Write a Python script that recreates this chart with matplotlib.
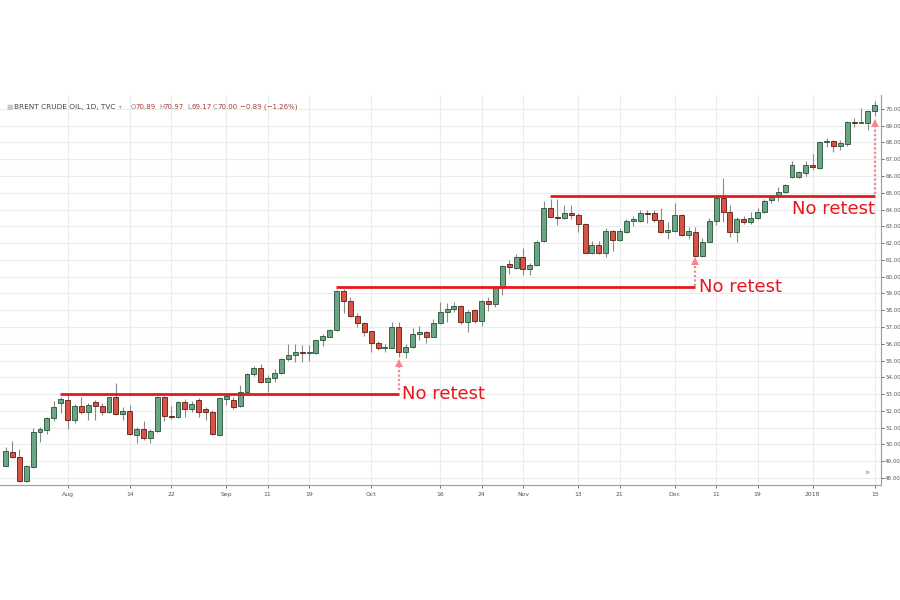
import numpy as np
import pandas as pd
import matplotlib
matplotlib.use("Agg")
import matplotlib.pyplot as plt

# ------------------------------
# Data (Brent crude, daily, Jul 19 2017 - Jan 15 2018)
# ------------------------------
dates = pd.bdate_range("2017-07-19", "2018-01-15")
dates = dates.drop(pd.to_datetime(["2017-12-25", "2018-01-01"]))

opens = [
    48.71, 49.55, 49.25, 47.84, 48.68, 50.72, 50.86, 51.60, 52.49,
    52.65, 51.45, 52.29, 51.93, 52.51, 52.27, 51.95, 52.83, 51.84, 51.99, 50.54, 50.94,
    50.36, 50.80, 52.85, 51.72, 51.62, 52.55, 52.11, 52.65, 52.13, 51.95, 50.56,
    52.73, 52.65, 52.26, 53.10, 54.18, 54.54, 53.74, 53.94, 54.24, 55.07, 55.31,
    55.53, 55.43, 55.43, 56.22, 56.42, 56.82, 59.15, 58.57, 57.66, 57.26,
    56.73, 56.07, 55.72, 55.77, 56.98, 55.53, 55.79, 56.58, 56.70, 56.42, 57.22, 57.91,
    58.06, 58.25, 57.30, 58.02, 57.34, 58.57, 58.37, 59.40, 60.76, 60.50,
    61.19, 60.48, 60.70, 62.13, 64.08, 63.58, 63.49, 63.82, 63.68, 63.14, 61.43,
    61.89, 61.40, 62.74, 62.19, 62.68, 63.32, 63.34, 63.80, 63.78, 63.40, 62.69,
    62.73, 63.68, 62.49, 62.69, 61.25, 62.09, 63.32, 64.71, 63.88, 62.69,
    63.44, 63.26, 63.49, 63.84, 64.57, 64.83, 65.07, 65.97, 65.97, 66.17,
    66.66, 66.50, 68.01, 68.07, 67.80, 67.90, 69.24, 69.16, 69.15, 69.85,
]
highs = [
    49.85, 50.20, 49.70, 48.80, 50.99, 51.02, 51.62, 52.60, 52.85,
    52.93, 52.40, 52.85, 52.49, 52.65, 52.49, 52.85, 53.64, 52.25, 52.35, 51.06, 51.41,
    50.90, 52.89, 52.89, 52.29, 52.60, 52.69, 52.60, 52.75, 52.22, 52.05, 52.80,
    52.95, 52.80, 53.54, 54.24, 54.67, 54.78, 54.14, 54.48, 55.13, 55.99, 55.99,
    55.93, 55.93, 56.28, 56.58, 56.86, 59.21, 59.25, 58.81, 57.85, 57.32,
    56.76, 56.19, 56.00, 57.32, 57.32, 55.99, 56.92, 57.06, 56.78, 57.50, 58.51, 58.45,
    58.51, 58.31, 58.00, 58.07, 58.61, 58.77, 59.45, 60.70, 60.99, 61.35,
    61.69, 60.83, 62.19, 64.53, 64.62, 64.62, 64.28, 64.28, 63.78, 63.20, 62.15,
    62.15, 62.89, 62.78, 62.89, 63.42, 63.62, 64.00, 64.00, 63.98, 64.08, 63.28,
    64.38, 63.72, 62.98, 62.98, 62.29, 63.50, 64.87, 65.87, 64.28, 63.58,
    63.64, 63.88, 64.08, 64.60, 64.87, 65.32, 65.53, 66.90, 66.30, 66.89,
    67.30, 68.07, 68.29, 68.15, 68.15, 69.30, 69.45, 70.04, 69.94, 70.45,
]
lows = [
    48.70, 49.18, 47.78, 47.78, 48.60, 50.17, 50.62, 51.42, 51.85,
    50.94, 51.30, 51.80, 51.45, 51.45, 51.77, 51.87, 51.74, 51.45, 50.56, 50.07, 50.26,
    50.07, 50.74, 51.42, 51.50, 51.56, 51.66, 51.95, 51.62, 51.45, 50.56, 50.50,
    52.35, 52.10, 52.22, 53.05, 54.10, 53.68, 53.14, 53.74, 54.20, 55.00, 54.93,
    54.93, 54.95, 55.40, 55.87, 56.40, 56.78, 57.85, 57.62, 56.98, 56.47,
    55.53, 55.63, 55.50, 55.73, 55.20, 55.14, 55.73, 56.22, 56.03, 56.38, 57.18, 57.32,
    57.90, 57.18, 56.68, 57.26, 57.06, 57.97, 58.18, 58.91, 60.16, 60.44,
    60.10, 60.10, 60.64, 62.09, 63.54, 63.08, 63.43, 63.43, 62.69, 61.40, 61.35,
    61.35, 61.16, 61.55, 62.15, 62.62, 63.03, 63.24, 63.20, 63.28, 62.59, 62.25,
    62.65, 62.45, 62.25, 61.20, 61.20, 62.05, 63.08, 63.25, 62.39, 62.09,
    63.14, 63.14, 63.44, 63.78, 64.38, 64.50, 65.00, 65.91, 65.91, 66.00,
    66.36, 66.44, 67.70, 67.45, 67.55, 67.80, 68.91, 69.14, 68.75, 69.60,
]
closes = [
    49.61, 49.27, 47.84, 48.70, 50.72, 50.92, 51.60, 52.25, 52.69,
    51.45, 52.29, 51.95, 52.37, 52.26, 51.95, 52.83, 51.81, 52.01, 50.62, 50.94, 50.36,
    50.80, 52.85, 51.72, 51.62, 52.55, 52.11, 52.41, 51.95, 51.95, 50.62, 52.75,
    52.89, 52.20, 53.10, 54.18, 54.54, 53.74, 53.94, 54.24, 55.07, 55.31, 55.53,
    55.43, 55.48, 56.22, 56.48, 56.82, 59.15, 58.57, 57.66, 57.22, 56.69,
    56.07, 55.73, 55.80, 56.98, 55.53, 55.79, 56.58, 56.70, 56.42, 57.22, 57.91, 58.08,
    58.25, 57.30, 57.90, 57.34, 58.57, 58.37, 59.37, 60.64, 60.57, 61.19,
    60.44, 60.70, 62.09, 64.08, 63.58, 63.52, 63.82, 63.68, 63.14, 61.43, 61.89,
    61.40, 62.74, 62.19, 62.74, 63.34, 63.43, 63.78, 63.76, 63.39, 62.67, 62.79,
    63.68, 62.49, 62.73, 61.25, 62.09, 63.32, 64.71, 63.88, 62.69, 63.44,
    63.28, 63.49, 63.84, 64.51, 64.77, 65.07, 65.47, 66.66, 66.23, 66.66,
    66.54, 68.01, 68.07, 67.80, 67.99, 69.24, 69.17, 69.20, 69.87, 70.25,
]

tick_dates = ["2017-08-01", "2017-08-14", "2017-08-22", "2017-09-01", "2017-09-11",
              "2017-09-19", "2017-10-02", "2017-10-16", "2017-10-24", "2017-11-01",
              "2017-11-13", "2017-11-21", "2017-12-01", "2017-12-11", "2017-12-19",
              "2018-01-02", "2018-01-15"]
tick_labels = ["Aug", "14", "22", "Sep", "11", "19", "Oct", "16", "24", "Nov",
               "13", "21", "Dec", "11", "19", "2018", "15"]

# resistance levels: price, start date, end date
levels = [53.0, 59.4, 64.83]
level_start = ["2017-07-31", "2017-09-25", "2017-11-07"]
level_end = ["2017-10-06", "2017-12-06", "2018-01-15"]
# "No retest" arrows: date, from price, to price
arrow_dates = ["2017-10-06", "2017-12-06", "2018-01-15"]
arrow_from = [53.24, 59.45, 64.93]
arrow_to = [54.85, 60.95, 69.15]

# ------------------------------
# Plot
# ------------------------------
o = np.array(opens)
h = np.array(highs)
l = np.array(lows)
c = np.array(closes)
x = np.arange(len(dates))

def pos(d):
    return dates.get_loc(pd.Timestamp(d))

fig = plt.figure(figsize=(9, 6), dpi=100)
ax = fig.add_axes([0.0, 0.1917, 0.9789, 0.65])

up = c >= o
green, green_edge = "#6ba583", "#225437"
red, red_edge = "#d75442", "#5b1a13"

ax.vlines(x, l, h, color="#8a8a8a", lw=0.8, zorder=2)
body_h = np.maximum(np.abs(c - o), 0.04)
body_b = np.minimum(o, c)
ax.bar(x[up], body_h[up], bottom=body_b[up], width=0.72,
       color=green, edgecolor=green_edge, lw=0.6, zorder=3)
ax.bar(x[~up], body_h[~up], bottom=body_b[~up], width=0.72,
       color=red, edgecolor=red_edge, lw=0.6, zorder=3)

# resistance lines, arrows and labels
line_red = "#e8161d"
arrow_col = "#f2898c"
for i in range(3):
    x0 = pos(level_start[i])
    x1 = pos(level_end[i])
    ax.plot([x0 - 0.1, x1], [levels[i], levels[i]], color=line_red, lw=2.0,
            solid_capstyle="butt", zorder=5)
    xa = pos(arrow_dates[i])
    ax.plot([xa, xa], [arrow_from[i], arrow_to[i]], color=arrow_col, lw=1.6,
            linestyle=(0, (1, 1)), zorder=4)
    ax.plot([xa], [arrow_to[i]], marker="^", markersize=6, color=arrow_col,
            markeredgewidth=0, zorder=4)

ax.text(pos(level_end[0]) + 0.4, levels[0], "No retest", color=line_red,
        fontsize=13, va="center", ha="left", zorder=6)
ax.text(pos(level_end[1]) + 0.5, levels[1], "No retest", color=line_red,
        fontsize=13, va="center", ha="left", zorder=6)
ax.text(pos(level_end[2]) + 0.1, levels[2] - 0.25, "No retest", color=line_red,
        fontsize=13, va="top", ha="right", zorder=6)

# axes styling
ax.set_xlim(-0.8, 126.9)
ax.set_ylim(47.58, 70.83)
ax.set_yticks(np.arange(48, 71, 1))
ax.set_yticklabels(["%.2f" % v for v in np.arange(48, 71, 1)])
ax.set_xticks([pos(d) for d in tick_dates])
ax.set_xticklabels(tick_labels)
ax.yaxis.tick_right()
ax.tick_params(axis="y", labelsize=4.0, colors="#555555", length=2.0,
               width=0.6, pad=1.0, labelcolor="#555555")
ax.tick_params(axis="x", labelsize=4.4, colors="#555555", length=2.5,
               width=0.6, pad=2.5, labelcolor="#555555")
ax.grid(True, color="#ececec", lw=0.8, zorder=0)
ax.set_axisbelow(True)
for s in ["left", "top"]:
    ax.spines[s].set_visible(False)
for s in ["right", "bottom"]:
    ax.spines[s].set_color("#9a9a9a")
    ax.spines[s].set_linewidth(0.8)

# header text
fig.text(6 / 900, 1 - 107 / 600, "\u25a0", fontsize=5, color="#c8c8c8", va="center")
fig.text(14 / 900, 1 - 107 / 600, "BRENT CRUDE OIL, 1D, TVC", fontsize=5.3,
         color="#444444", va="center")
fig.text(119 / 900, 1 - 107 / 600, "\u25be", fontsize=4, color="#aaaaaa", va="center")
hdr = [("O", "70.89", 131), ("H", "70.97", 159), ("L", "69.17", 187), ("C", "70.00", 213)]
for k, v, px in hdr:
    fig.text(px / 900, 1 - 107 / 600, k, fontsize=5, color="#888888", va="center")
    fig.text((px + 4) / 900, 1 - 107 / 600, v, fontsize=5, color="#a0403a", va="center")
fig.text(240 / 900, 1 - 107 / 600, "\u22120.89 (\u22121.26%)", fontsize=5,
         color="#a0403a", va="center")

ax.text(0.984, 0.031, "\u00bb", transform=ax.transAxes, fontsize=6,
        color="#888888", ha="center", va="center")

fig.savefig("out.png", dpi=100)
